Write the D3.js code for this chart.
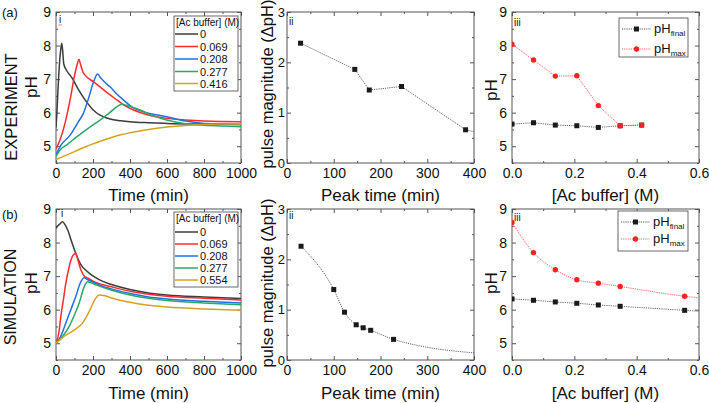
<!DOCTYPE html>
<html><head><meta charset="utf-8">
<script src="https://cdn.jsdelivr.net/npm/d3@7"></script>
<style>
body{margin:0;background:#fff}
svg{display:block}
text{font-family:"Liberation Sans",Arial,sans-serif;fill:#111}
</style>
</head><body>
<svg id="c" width="709" height="403"></svg>
<script>
// ---------- DATA ----------
const bufferLabelsExp = ["0", "0.069", "0.208", "0.277", "0.416"];
const bufferLabelsSim = ["0", "0.069", "0.208", "0.277", "0.554"];
const seriesColors = ["#3c3c3c", "#ff2b2b", "#1f6fe5", "#2aa866", "#d6a21e"];

// Experiment pH(t) curves [time (min), pH]
const expBuf0 = [[0,5.55],[4,5.9],[10,6.6],[18,7.4],[25,7.85],[31,8.07],[36,7.85],[42,7.45],[55,7.28],[85,7.05],[120,6.7],[157,6.38],[190,6.15],[220,5.99],[260,5.87],[292,5.81],[350,5.76],[400,5.73],[500,5.7],[600,5.68],[800,5.66],[1000,5.65]];
const expBuf069 = [[0,4.92],[22,5.19],[49,5.69],[76,6.38],[100,7.1],[115,7.45],[124,7.59],[132,7.45],[145,7.22],[157,7.12],[200,6.93],[238,6.77],[280,6.58],[329,6.38],[370,6.22],[419,6.08],[500,5.93],[598,5.83],[700,5.78],[800,5.75],[1000,5.73]];
const expBuf208 = [[0,4.75],[22,4.99],[76,5.33],[120,5.72],[148,5.98],[180,6.5],[205,6.95],[225,7.15],[240,7.05],[265,6.9],[292,6.77],[330,6.55],[364,6.38],[410,6.17],[454,6.06],[520,5.96],[598,5.88],[700,5.75],[800,5.68],[1000,5.65]];
const expBuf277 = [[0,4.7],[22,4.89],[60,5.05],[112,5.28],[170,5.52],[238,5.78],[290,6.0],[330,6.18],[355,6.25],[380,6.22],[420,6.15],[454,6.08],[520,5.92],[598,5.78],[700,5.67],[778,5.63],[900,5.6],[1000,5.58]];
const expBuf416 = [[0,4.6],[50,4.72],[100,4.84],[150,4.96],[200,5.07],[250,5.17],[300,5.26],[350,5.34],[400,5.4],[500,5.5],[600,5.57],[700,5.62],[800,5.65],[900,5.66],[1000,5.66]];

// Simulation pH(t) curves
const simBuf0 = [[0,8.42],[10,8.5],[20,8.55],[35,8.62],[50,8.52],[65,8.35],[80,8.1],[100,7.78],[120,7.5],[136,7.33],[160,7.18],[181,7.08],[210,6.97],[250,6.85],[300,6.75],[400,6.6],[500,6.5],[600,6.44],[800,6.38],[1000,6.33]];
const simBuf069 = [[0,5.0],[15,5.3],[26,5.79],[40,6.3],[53,6.78],[70,7.25],[90,7.6],[107,7.68],[120,7.45],[135,7.18],[150,7.02],[175,6.93],[200,6.85],[250,6.75],[300,6.68],[400,6.55],[500,6.46],[600,6.4],[800,6.34],[1000,6.29]];
const simBuf208 = [[0,5.0],[25,5.2],[53,5.6],[80,6.0],[107,6.39],[130,6.78],[152,6.95],[170,6.9],[200,6.82],[250,6.7],[300,6.62],[400,6.48],[500,6.38],[600,6.32],[800,6.25],[1000,6.2]];
const simBuf277 = [[0,5.0],[35,5.2],[70,5.49],[100,5.85],[125,6.19],[150,6.65],[170,6.83],[190,6.8],[220,6.73],[300,6.58],[400,6.44],[500,6.34],[600,6.27],[800,6.2],[1000,6.15]];
const simBuf554 = [[0,5.0],[53,5.24],[100,5.4],[143,5.6],[180,5.95],[210,6.3],[233,6.44],[260,6.42],[300,6.35],[400,6.22],[500,6.13],[600,6.08],[800,6.02],[1000,5.98]];

// Pulse magnitude vs peak time [peak time, ΔpH]; last entry continues past the axis end
const expPulse = [[29,2.38],[145,1.86],[176,1.45],[245,1.52],[382,0.66],[420,0.58]];
const simPulse = [[30,2.26],[100,1.4],[123,0.95],[148,0.70],[163,0.64],[179,0.59],[228,0.41],[430,0.12]];

// pH vs buffer concentration
const expConc = [0, 0.069, 0.139, 0.208, 0.277, 0.347, 0.416];
const expPHfinal = [5.66, 5.70, 5.63, 5.61, 5.56, 5.61, 5.63];
const expPHmax = [8.04, 7.57, 7.09, 7.10, 6.21, 5.61, 5.63];
const simConc = [0, 0.069, 0.139, 0.208, 0.277, 0.347, 0.554, 0.62];
const simPHfinal = [6.32, 6.28, 6.23, 6.19, 6.14, 6.10, 5.98, 5.94];
const simPHmax = [8.6, 7.70, 7.19, 6.89, 6.79, 6.69, 6.40, 6.33];

// Ticks
const timeTicks = [0, 200, 400, 600, 800, 1000];
const timeMinor = [100, 300, 500, 700, 900];
const phTicks = [5, 6, 7, 8, 9];
const phMinor = [4.5, 5.5, 6.5, 7.5, 8.5];
const peakTicks = [0, 100, 200, 300, 400];
const peakMinor = [50, 150, 250, 350];
const dphTicks = [0, 1, 2, 3];
const dphMinor = [0.5, 1.5, 2.5];
const concTicks = [0, 0.2, 0.4, 0.6];
const concMinor = [0.1, 0.3, 0.5];

// ---------- DRAW ----------
const svg = d3.select("#c");
const rows = [{y0: 12, y1: 163}, {y0: 209, y1: 360}];
const cols = [{x0: 56, x1: 241}, {x0: 287, x1: 474}, {x0: 512, x1: 699}];
const frameColor = "#555";
let clipId = 0;

function panel(row, col, o) {
  const x = d3.scaleLinear().domain(o.xd).range([col.x0, col.x1]);
  const y = d3.scaleLinear().domain(o.yd).range([row.y1, row.y0]);
  const g = svg.append("g");
  const id = "clip" + (clipId++);
  svg.append("clipPath").attr("id", id).append("rect")
    .attr("x", col.x0).attr("y", row.y0).attr("width", col.x1 - col.x0).attr("height", row.y1 - row.y0);
  const style = (fs) => sel => { sel.select(".domain").remove(); sel.selectAll("line").attr("stroke", frameColor); sel.selectAll("text").attr("font-size", fs).attr("fill", "#111").attr("font-family", '"Liberation Sans",Arial,sans-serif'); };
  const yfs = o.yfs || 14, ypad = o.ypad || 5;
  // major
  g.append("g").attr("transform", `translate(0,${row.y1})`)
    .call(d3.axisBottom(x).tickValues(o.xt).tickFormat(o.xf).tickSize(-4).tickPadding(5)).call(style(14));
  g.append("g").attr("transform", `translate(0,${row.y0})`)
    .call(d3.axisTop(x).tickValues(o.xt).tickFormat("").tickSize(-4)).call(style(14));
  g.append("g").attr("transform", `translate(${col.x0},0)`)
    .call(d3.axisLeft(y).tickValues(o.yt).tickFormat(d3.format("d")).tickSize(-4).tickPadding(ypad)).call(style(yfs));
  g.append("g").attr("transform", `translate(${col.x1},0)`)
    .call(d3.axisRight(y).tickValues(o.yt).tickFormat("").tickSize(-4)).call(style(14));
  // minor
  g.append("g").attr("transform", `translate(0,${row.y1})`)
    .call(d3.axisBottom(x).tickValues(o.xm).tickFormat("").tickSize(-2)).call(style(14));
  g.append("g").attr("transform", `translate(0,${row.y0})`)
    .call(d3.axisTop(x).tickValues(o.xm).tickFormat("").tickSize(-2)).call(style(14));
  g.append("g").attr("transform", `translate(${col.x0},0)`)
    .call(d3.axisLeft(y).tickValues(o.ym).tickFormat("").tickSize(-2)).call(style(14));
  g.append("g").attr("transform", `translate(${col.x1},0)`)
    .call(d3.axisRight(y).tickValues(o.ym).tickFormat("").tickSize(-2)).call(style(14));
  g.append("rect").attr("x", col.x0).attr("y", row.y0).attr("width", col.x1 - col.x0).attr("height", row.y1 - row.y0)
    .attr("fill", "none").attr("stroke", frameColor).attr("stroke-width", 1);
  const plot = svg.append("g").attr("clip-path", `url(#${id})`);
  return {x, y, plot};
}

function curves(p, list, curve) {
  const line = d3.line().x(d => p.x(d[0])).y(d => p.y(d[1])).curve(curve);
  list.forEach((s, i) => {
    p.plot.append("path").attr("d", line(s)).attr("fill", "none")
      .attr("stroke", seriesColors[i]).attr("stroke-width", 1.5);
  });
}

function curveLegend(x0, y0, w, h, titleY, ys, labels) {
  const g = svg.append("g");
  g.append("rect").attr("x", x0).attr("y", y0).attr("width", w).attr("height", h)
    .attr("fill", "#fff").attr("stroke", "#444").attr("stroke-width", 0.8);
  g.append("text").attr("x", x0 + 2).attr("y", titleY).attr("font-size", 10).text("[Ac buffer] (M)");
  labels.forEach((l, i) => {
    g.append("line").attr("x1", x0 + 1).attr("x2", x0 + 24).attr("y1", ys[i]).attr("y2", ys[i])
      .attr("stroke", seriesColors[i]).attr("stroke-width", 1.5);
    g.append("text").attr("x", x0 + 26).attr("y", ys[i] + 4).attr("font-size", 11).text(l);
  });
}

function scatterLine(p, xs, ys, color, marker, curve) {
  const pts = xs.map((v, i) => [v, ys[i]]);
  const line = d3.line().x(d => p.x(d[0])).y(d => p.y(d[1])).curve(curve);
  p.plot.append("path").attr("d", line(pts)).attr("fill", "none").attr("stroke", color)
    .attr("stroke-width", 0.9).attr("stroke-dasharray", "1.2,1");
  pts.forEach(d => {
    if (marker === "sq") {
      p.plot.append("rect").attr("x", p.x(d[0]) - 2.5).attr("y", p.y(d[1]) - 2.5).attr("width", 5).attr("height", 5).attr("fill", "#1a1a1a");
    } else {
      p.plot.append("circle").attr("cx", p.x(d[0])).attr("cy", p.y(d[1])).attr("r", 2.7).attr("fill", "#ff2020");
    }
  });
}

function phLegend(x0, y0, w, h, ys) {
  const g = svg.append("g");
  g.append("rect").attr("x", x0).attr("y", y0).attr("width", w).attr("height", h)
    .attr("fill", "#fff").attr("stroke", "#444").attr("stroke-width", 0.8);
  const items = [["final", "#444", "sq"], ["max", "#ff5050", "ci"]];
  items.forEach((it, i) => {
    g.append("line").attr("x1", x0 + 3).attr("x2", x0 + 32).attr("y1", ys[i]).attr("y2", ys[i])
      .attr("stroke", it[1]).attr("stroke-width", 0.9).attr("stroke-dasharray", "1.2,1");
    if (it[2] === "sq") g.append("rect").attr("x", x0 + 15).attr("y", ys[i] - 2.5).attr("width", 5).attr("height", 5).attr("fill", "#1a1a1a");
    else g.append("circle").attr("cx", x0 + 17.5).attr("cy", ys[i]).attr("r", 2.7).attr("fill", "#ff2020");
    const t = g.append("text").attr("x", x0 + 35).attr("y", ys[i] + 4).attr("font-size", 13);
    t.append("tspan").text("pH");
    t.append("tspan").attr("font-size", 8).attr("dy", 3).text(it[0]);
  });
}

const fmtInt = d3.format("d");
const fmtConc = d3.format(".1f");

// (a) row
const pA1 = panel(rows[0], cols[0], {xd: [0, 1000], yd: [4.5, 9], xt: timeTicks, xm: timeMinor, yt: phTicks, ym: phMinor, xf: fmtInt});
curves(pA1, [expBuf0, expBuf069, expBuf208, expBuf277, expBuf416], d3.curveMonotoneX);
curveLegend(174, 16, 64, 75, 26, [34, 46.5, 59, 71.5, 83.5], bufferLabelsExp);

const pA2 = panel(rows[0], cols[1], {xd: [0, 400], yd: [0, 3], xt: peakTicks, xm: peakMinor, yt: dphTicks, ym: dphMinor, xf: fmtInt, yfs: 13, ypad: 2});
scatterLine(pA2, expPulse.map(d => d[0]), expPulse.map(d => d[1]), "#555", "sq", d3.curveLinear);

const pA3 = panel(rows[0], cols[2], {xd: [0, 0.6], yd: [4.5, 9], xt: concTicks, xm: concMinor, yt: phTicks, ym: phMinor, xf: fmtConc});
scatterLine(pA3, expConc, expPHfinal, "#555", "sq", d3.curveLinear);
scatterLine(pA3, expConc, expPHmax, "#ff5050", "ci", d3.curveLinear);
phLegend(619, 18, 69, 39, [29, 49]);

// (b) row
const pB1 = panel(rows[1], cols[0], {xd: [0, 1000], yd: [4.5, 9], xt: timeTicks, xm: timeMinor, yt: phTicks, ym: phMinor, xf: fmtInt});
curves(pB1, [simBuf0, simBuf069, simBuf208, simBuf277, simBuf554], d3.curveMonotoneX);
curveLegend(174, 212, 64, 75, 222, [232, 244, 256, 268, 280], bufferLabelsSim);

const pB2 = panel(rows[1], cols[1], {xd: [0, 400], yd: [0, 3], xt: peakTicks, xm: peakMinor, yt: dphTicks, ym: dphMinor, xf: fmtInt, yfs: 13, ypad: 2});
scatterLine(pB2, simPulse.map(d => d[0]), simPulse.map(d => d[1]), "#555", "sq", d3.curveMonotoneX);

const pB3 = panel(rows[1], cols[2], {xd: [0, 0.6], yd: [4.5, 9], xt: concTicks, xm: concMinor, yt: phTicks, ym: phMinor, xf: fmtConc});
scatterLine(pB3, simConc, simPHfinal, "#555", "sq", d3.curveMonotoneX);
scatterLine(pB3, simConc, simPHmax, "#ff5050", "ci", d3.curveMonotoneX);
phLegend(618, 211, 70, 40, [222, 239]);

// ---------- TEXT ----------
function txt(x, y, s, size, opts = {}) {
  const t = svg.append("text").attr("x", x).attr("y", y).attr("font-size", size).text(s);
  if (opts.anchor) t.attr("text-anchor", opts.anchor);
  if (opts.rot) t.attr("transform", `rotate(-90,${x},${y})`);
  return t;
}
txt(2, 17, "(a)", 13);
txt(2, 219, "(b)", 13);
txt(17, 107, "EXPERIMENT", 16.5, {anchor: "middle", rot: true});
txt(16, 297, "SIMULATION", 16, {anchor: "middle", rot: true});
txt(37, 87, "pH", 17, {anchor: "middle", rot: true});
txt(37, 283, "pH", 17, {anchor: "middle", rot: true});
txt(273, 84, "pulse magnitude (ΔpH)", 16.5, {anchor: "middle", rot: true});
txt(273, 283, "pulse magnitude (ΔpH)", 16.5, {anchor: "middle", rot: true});
txt(497, 90, "pH", 17, {anchor: "middle", rot: true});
txt(497, 283, "pH", 17, {anchor: "middle", rot: true});
txt(148.5, 201, "Time (min)", 17, {anchor: "middle"});
txt(380.5, 201, "Peak time (min)", 17, {anchor: "middle"});
txt(605.5, 201, "[Ac buffer] (M)", 17, {anchor: "middle"});
txt(148.5, 399, "Time (min)", 17, {anchor: "middle"});
txt(380.5, 399, "Peak time (min)", 17, {anchor: "middle"});
txt(605.5, 399, "[Ac buffer] (M)", 17, {anchor: "middle"});
// panel numerals
txt(59, 23, "i", 10);
svg.append("line").attr("x1", 58.5).attr("x2", 62).attr("y1", 25).attr("y2", 25).attr("stroke", "#ff6060").attr("stroke-width", 0.8);
txt(289, 25, "ii", 10);
txt(514, 26, "iii", 10);
txt(61, 217, "i", 10);
txt(289, 219, "ii", 10);
txt(514, 221, "iii", 10);
</script>
</body></html>
